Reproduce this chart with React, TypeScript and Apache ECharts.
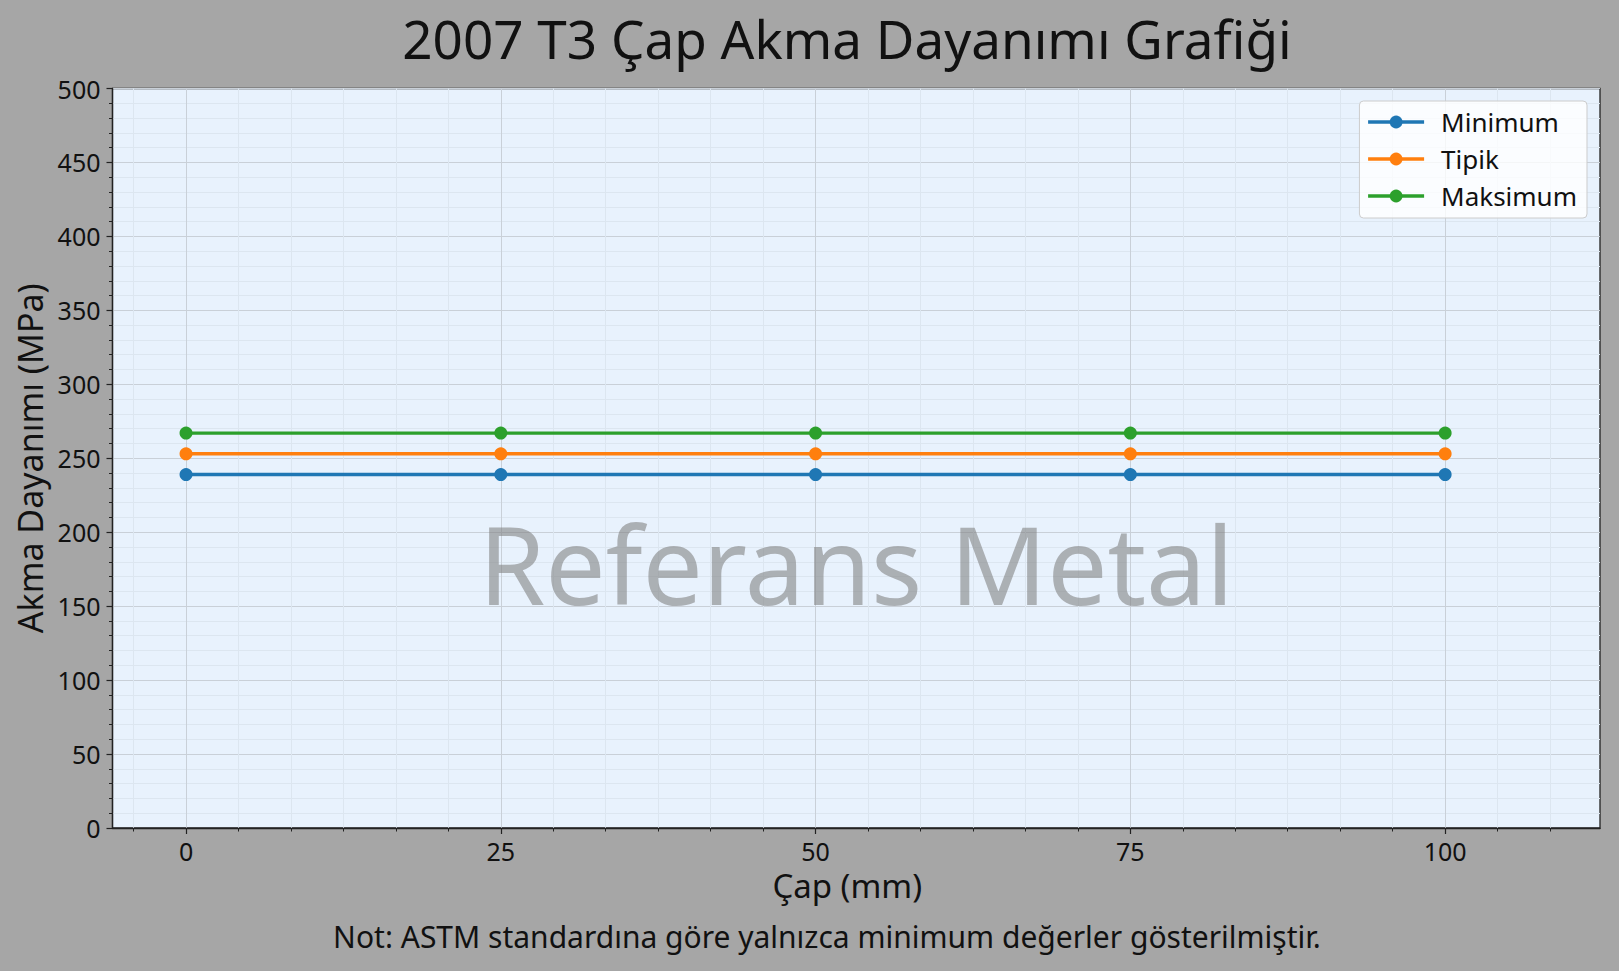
import { useEffect, useRef } from 'react'
import * as echarts from 'echarts'

// Veriler
const diameters = [0, 25, 50, 75, 100]
const minimumValues = [239, 239, 239, 239, 239]
const tipikValues = [253, 253, 253, 253, 253]
const maksimumValues = [267, 267, 267, 267, 267]

const seriesNames = ['Minimum', 'Tipik', 'Maksimum']
const seriesColors = ['#1f77b4', '#ff7f0e', '#2ca02c']

const xMajorTicks = [0, 25, 50, 75, 100]
const xMinorStep = 25 / 6
const xMin = -5.84
const xMax = 112.3
const xMinorTicks = Array.from({ length: 29 }, (_, i) => (i - 1) * xMinorStep).filter(
  v => v >= xMin && v <= xMax && !xMajorTicks.some(m => Math.abs(m - v) < 1e-6)
)

const FONT = '"Noto Sans", sans-serif'
const W = 1619
const H = 971
const GRID = { left: 112.5, top: 88.5, right: 19, bottom: 143 }

export default function App() {
  const chartRef = useRef<HTMLDivElement>(null)

  useEffect(() => {
    if (!chartRef.current) return
    document.body.style.margin = '0'
    const chart = echarts.init(chartRef.current, undefined, { renderer: 'svg' })

    const plotW = W - GRID.left - GRID.right
    const plotH = H - GRID.top - GRID.bottom

    const allValues = [minimumValues, tipikValues, maksimumValues]

    const option: echarts.EChartsOption = {
      animation: false,
      backgroundColor: '#a6a6a6',
      textStyle: { fontFamily: FONT },
      grid: {
        ...GRID,
        show: true,
        backgroundColor: '#e8f2fd',
        borderColor: '#222',
        borderWidth: 1.3
      },
      legend: {
        orient: 'vertical',
        right: 32,
        top: 101,
        backgroundColor: 'rgba(255,255,255,0.8)',
        borderColor: '#cccccc',
        borderWidth: 1,
        borderRadius: 4,
        padding: [8, 10, 9, 7],
        itemWidth: 56,
        itemHeight: 16,
        itemGap: 11,
        lineStyle: { width: 3.3 },
        textStyle: { fontSize: 26, color: '#111', fontFamily: FONT, padding: [0, 0, 0, 12] },
        data: seriesNames
      },
      xAxis: [
        {
          type: 'value',
          min: xMin,
          max: xMax,
          position: 'bottom',
          axisLine: { show: true, onZero: false, lineStyle: { color: '#222', width: 1.3 } },
          axisTick: { show: true, customValues: xMajorTicks, length: 6, lineStyle: { color: '#222', width: 1.2 } },
          axisLabel: { customValues: xMajorTicks, fontSize: 25, color: '#111', margin: 10, fontFamily: FONT },
          splitLine: { show: true, lineStyle: { color: '#c9d0d8', width: 1 } },
          name: 'Çap (mm)',
          nameLocation: 'middle',
          nameGap: 41,
          nameTextStyle: { fontSize: 33, color: '#111', fontFamily: FONT, padding: [0, 18, 0, 0] }
        },
        {
          type: 'value',
          min: xMin,
          max: xMax,
          position: 'bottom',
          axisLine: { show: false, onZero: false },
          axisTick: { show: true, customValues: xMinorTicks, length: 3.5, lineStyle: { color: '#222', width: 1 } },
          axisLabel: { show: false },
          splitLine: { show: true, lineStyle: { color: '#dce6f0', width: 1 } }
        }
      ],
      yAxis: {
        type: 'value',
        min: 0,
        max: 500,
        interval: 50,
        axisLine: { show: true, onZero: false, lineStyle: { color: '#222', width: 1.3 } },
        axisTick: { show: true, length: 6, lineStyle: { color: '#222', width: 1.2 } },
        minorTick: { show: true, splitNumber: 5, length: 3.5, lineStyle: { color: '#222', width: 1 } },
        axisLabel: { fontSize: 25, color: '#111', margin: 12, fontFamily: FONT },
        splitLine: { show: true, lineStyle: { color: '#c9d0d8', width: 1 } },
        minorSplitLine: { show: true, lineStyle: { color: '#dce6f0', width: 1 } },
        name: 'Akma Dayanımı (MPa)',
        nameLocation: 'middle',
        nameGap: 64,
        nameTextStyle: { fontSize: 34, color: '#111', fontFamily: FONT }
      },
      graphic: [
        {
          type: 'text',
          x: 847,
          y: 38,
          style: {
            text: '2007 T3 Çap Akma Dayanımı Grafiği',
            fontSize: 53,
            fontFamily: FONT,
            fill: '#111',
            align: 'center',
            verticalAlign: 'middle'
          }
        },
        {
          type: 'text',
          x: GRID.left + plotW * 0.5,
          y: GRID.top + plotH * 0.643,
          z: 1,
          style: {
            text: 'Referans Metal',
            fontSize: 107,
            fontFamily: FONT,
            fill: 'rgba(128,128,128,0.58)',
            align: 'center',
            verticalAlign: 'middle'
          }
        },
        {
          type: 'text',
          x: 827,
          y: 936,
          style: {
            text: 'Not: ASTM standardına göre yalnızca minimum değerler gösterilmiştir.',
            fontSize: 30,
            fontFamily: FONT,
            fill: '#111',
            align: 'center',
            verticalAlign: 'middle'
          }
        }
      ],
      series: seriesNames.map((name, si) => ({
        name,
        type: 'line',
        xAxisIndex: 0,
        data: diameters.map((d, i) => [d, allValues[si][i]]),
        symbol: 'circle',
        symbolSize: 13,
        lineStyle: { width: 3.4, color: seriesColors[si] },
        itemStyle: { color: seriesColors[si] },
        z: 5
      }))
    }

    chart.setOption(option)

    return () => {
      chart.dispose()
    }
  }, [])

  return <div ref={chartRef} style={{ width: W, height: H }} />
}
